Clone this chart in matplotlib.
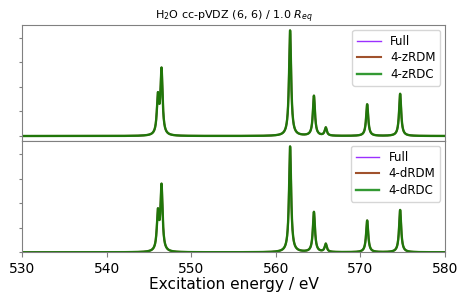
import numpy as np
import matplotlib
matplotlib.use("Agg")
import matplotlib.pyplot as plt
from matplotlib.ticker import MultipleLocator

# stick spectrum (peak energies in eV, oscillator strengths)
peak_energies = [546.04, 546.47, 561.68, 564.50, 565.90, 570.80, 574.70]
full_intens = [0.150, 0.263, 0.430, 0.163, 0.033, 0.129, 0.172]
zrdm_intens = [0.150, 0.263, 0.430, 0.163, 0.033, 0.129, 0.172]
zrdc_intens = [0.150, 0.263, 0.430, 0.163, 0.033, 0.129, 0.172]
drdm_intens = [0.150, 0.263, 0.430, 0.163, 0.033, 0.129, 0.172]
drdc_intens = [0.150, 0.263, 0.430, 0.163, 0.033, 0.129, 0.172]

gamma = 0.15  # lorentzian half width, eV
x_ticks = [530, 540, 550, 560, 570, 580]


def broaden(energies, intens, grid):
    spec = np.zeros_like(grid)
    for e, f in zip(energies, intens):
        spec += f / (1.0 + ((grid - e) / gamma) ** 2)
    return spec


grid = np.linspace(530, 580, 5001)

fig = plt.figure(figsize=(4.68, 3.01), dpi=100)
ax1 = fig.add_axes([0.0477, 0.5306, 0.903, 0.3854])
ax2 = fig.add_axes([0.0477, 0.1618, 0.903, 0.3688])

panels = [
    (ax1, [("Full", full_intens), ("4-zRDM", zrdm_intens), ("4-zRDC", zrdc_intens)]),
    (ax2, [("Full", full_intens), ("4-dRDM", drdm_intens), ("4-dRDC", drdc_intens)]),
]
colors = ["#9b30ff", "sienna", "g"]
widths = [1.0, 1.5, 1.7]
alphas = [1.0, 1.0, 0.8]

for ax, series in panels:
    for (label, intens), c, lw, a in zip(series, colors, widths, alphas):
        ax.plot(grid, broaden(peak_energies, intens, grid), color=c, lw=lw,
                alpha=a, label=label)
    ax.set_xlim(530, 580)
    ax.yaxis.set_major_locator(MultipleLocator(0.1))
    ax.set_yticklabels([])
    ax.tick_params(axis="y", length=2.5, color="0.5")
    for s in ax.spines.values():
        s.set_color("0.5")
    ax.legend(loc="upper right", fontsize=8.5, handlelength=2.0,
              labelspacing=0.3, borderaxespad=0.4)

ymax = max(full_intens) * 1.05
ax1.set_ylim(-0.05 * max(full_intens), ymax)
ax2.set_ylim(0, ymax)
ax1.tick_params(axis="x", bottom=False, labelbottom=False)
ax2.set_xticks(x_ticks)
ax2.tick_params(axis="x", length=3.5, color="0.5", labelsize=10)
ax2.set_xlabel("Excitation energy / eV", fontsize=11.1, labelpad=1)
ax1.set_title("H$_2$O cc-pVDZ (6, 6) / 1.0 $R_{eq}$", fontsize=8, pad=3)

fig.savefig("out.png", dpi=100)
